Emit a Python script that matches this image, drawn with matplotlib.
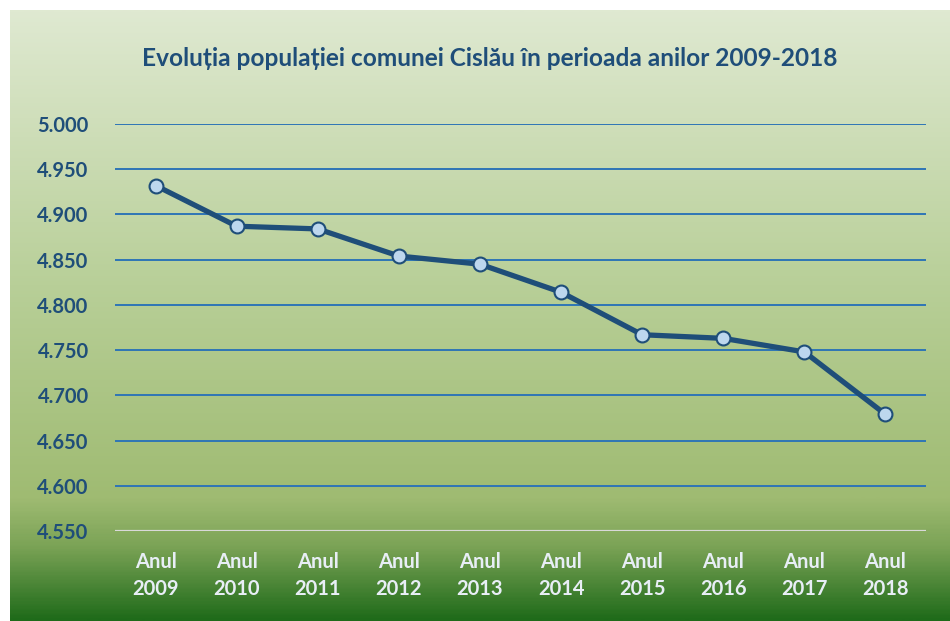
import numpy as np
import matplotlib.pyplot as plt
from matplotlib.colors import LinearSegmentedColormap

years = ["2009", "2010", "2011", "2012", "2013", "2014", "2015", "2016", "2017", "2018"]
population = [4932, 4887, 4884, 4854, 4845, 4814, 4767, 4763, 4748, 4679]
y_ticks = [4550, 4600, 4650, 4700, 4750, 4800, 4850, 4900, 4950, 5000]

title = "Evoluția populației comunei Cislău în perioada anilor 2009-2018"
dark_blue = "#1f4e79"

plt.rcParams['font.family'] = ['Lato', 'DejaVu Sans']

fig = plt.figure(figsize=(9.5, 6.21), dpi=100)
fig.patch.set_facecolor("white")

# gradient background
bg = fig.add_axes([10 / 950, 0, 1 - 10 / 950, 1 - 10 / 621])
bg.set_axis_off()
cmap = LinearSegmentedColormap.from_list(
    "bg", [(0.0, "#dfe9d1"), (0.45, "#b8cf98"), (0.80, "#9fbb72"),
           (0.88, "#7ba356"), (1.0, "#1f6b1a")])
grad = np.linspace(0, 1, 400).reshape(-1, 1)
bg.imshow(grad, aspect="auto", cmap=cmap, extent=[0, 1, 0, 1])

ax = fig.add_axes([115 / 950, 1 - 531 / 621, (926 - 115) / 950, (531 - 124) / 621])
ax.patch.set_alpha(0)
x = np.arange(len(years))
ax.plot(x, population, color=dark_blue, lw=3.8, marker="o", ms=10,
        markerfacecolor="#bdd7ee", markeredgecolor=dark_blue, markeredgewidth=1.5,
        zorder=3, solid_capstyle="round")

ax.set_xlim(-0.5, len(years) - 0.5)
ax.set_ylim(4550, 5000)
ax.set_yticks(y_ticks)
ax.set_yticklabels([f"{v / 1000:.3f}" for v in y_ticks])
for v in y_ticks[1:]:
    ax.axhline(v, color="#2e75b6", lw=1.4, zorder=1)
ax.axhline(4550, color="#d9d9d9", lw=1.6, zorder=1)

ax.set_xticks(x)
ax.set_xticklabels([f"Anul\n{y}" for y in years])
for s in ax.spines.values():
    s.set_visible(False)
ax.tick_params(axis="both", length=0)
ax.tick_params(axis="y", pad=19, labelsize=14.5, labelcolor=dark_blue)
ax.tick_params(axis="x", pad=15, labelsize=14.5, labelcolor="#e8eef6")
for lab in ax.get_xticklabels() + ax.get_yticklabels():
    lab.set_fontweight("bold")
for lab in ax.get_xticklabels():
    lab.set_linespacing(1.45)

fig.text(490 / 950, 1 - 58 / 621, title, ha="center", va="center",
         fontsize=17.6, fontweight="bold", color=dark_blue)

fig.savefig("out.png", dpi=100)
